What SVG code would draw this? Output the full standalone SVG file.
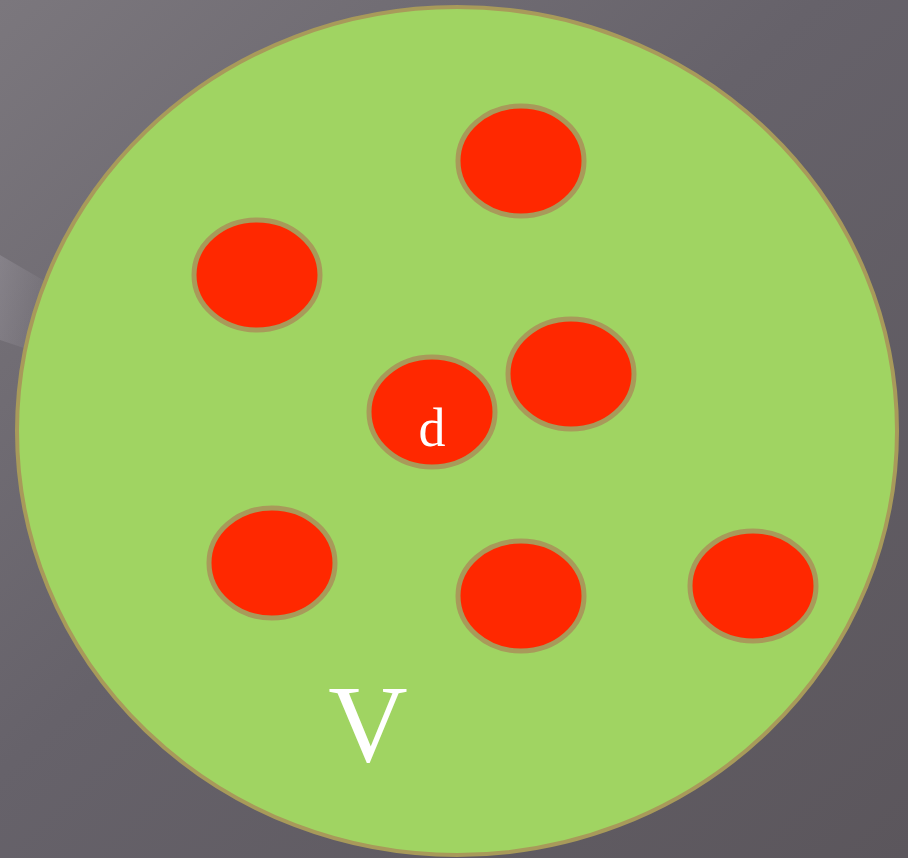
<svg xmlns="http://www.w3.org/2000/svg" width="908" height="858" viewBox="0 0 908 858">
<defs>
<linearGradient id="bg" x1="0" y1="0" x2="1" y2="1">
<stop offset="0" stop-color="#7b777d"/>
<stop offset="0.45" stop-color="#66626a"/>
<stop offset="1" stop-color="#5b565c"/>
</linearGradient>
<linearGradient id="streak" x1="0" y1="0" x2="1" y2="0.3">
<stop offset="0" stop-color="#a7a3ab" stop-opacity="0.7"/>
<stop offset="1" stop-color="#a7a3ab" stop-opacity="0"/>
</linearGradient>
<style>
.dot{fill:#ff2800;stroke:#a89a5a;stroke-width:5}
.lbl{font-family:"Liberation Serif","Times New Roman",serif;fill:#ffffff;text-anchor:middle}
</style>
</defs>
<rect width="908" height="858" fill="url(#bg)"/>
<polygon points="0,255 60,290 60,360 0,340" fill="url(#streak)" opacity="0.5"/>
<g id="V">
<ellipse cx="457" cy="431" rx="440" ry="424" fill="#a0d462" stroke="#a89a5a" stroke-width="4"/>
<text class="lbl" x="368" y="761" font-size="110">V</text>
</g>
<g id="n1"><ellipse class="dot" cx="521" cy="161" rx="63" ry="55"/></g>
<g id="n2"><ellipse class="dot" cx="257" cy="275" rx="63" ry="55"/></g>
<g id="n3"><ellipse class="dot" cx="571" cy="374" rx="63" ry="55"/></g>
<g id="n4"><ellipse class="dot" cx="432" cy="412" rx="63" ry="55"/><text class="lbl" x="432" y="446" font-size="54">d</text></g>
<g id="n5"><ellipse class="dot" cx="272" cy="563" rx="63" ry="55"/></g>
<g id="n6"><ellipse class="dot" cx="521" cy="596" rx="63" ry="55"/></g>
<g id="n7"><ellipse class="dot" cx="753" cy="586" rx="63" ry="55"/></g>
</svg>
